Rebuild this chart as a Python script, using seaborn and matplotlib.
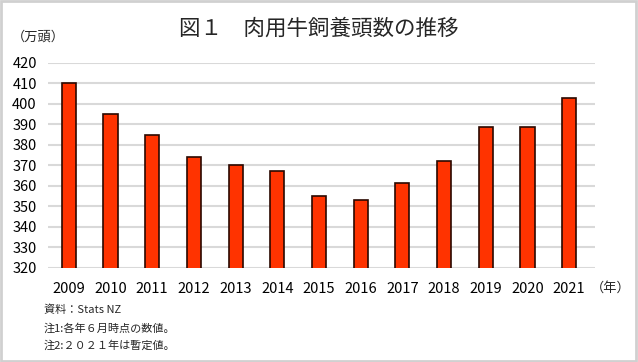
import matplotlib
matplotlib.use("Agg")
import matplotlib.pyplot as plt
import seaborn as sns
import pandas as pd
from matplotlib.patches import Rectangle

years = ["2009", "2010", "2011", "2012", "2013", "2014", "2015",
         "2016", "2017", "2018", "2019", "2020", "2021"]
heads = [410.0, 394.9, 384.7, 373.9, 370.3, 367.2, 355.2,
         353.3, 361.6, 372.1, 389.0, 388.6, 402.7]
yticks = [320, 330, 340, 350, 360, 370, 380, 390, 400, 410, 420]

title = "図１　肉用牛飼養頭数の推移"
y_unit = "（万頭）"
x_unit = "（年）"
notes = ["資料：Stats NZ", "注1:各年６月時点の数値。", "注2:２０２１年は暫定値。"]

sns.set_style("white")
plt.rcParams["font.family"] = ["Noto Sans CJK JP", "DejaVu Sans"]

df = pd.DataFrame({"year": years, "heads": heads})

fig = plt.figure(figsize=(6.38, 3.62), dpi=100)
ax = fig.add_axes([0.0752, 0.2597, 0.8574, 0.5663])

sns.barplot(data=df, x="year", y="heads", ax=ax, color="#ff3300",
            width=0.34, edgecolor="#2a0800", linewidth=1.2, saturation=1)

ax.set_ylim(320, 420)
ax.set_xlim(-0.5, 12.62)
ax.set_yticks(yticks)
ax.yaxis.grid(True, color="#d9d9d9", linewidth=1.5)
ax.set_axisbelow(True)
for s in ax.spines.values():
    s.set_visible(False)
ax.tick_params(axis="both", length=0, labelsize=10.5, colors="#000000")
ax.tick_params(axis="y", pad=8)
ax.tick_params(axis="x", pad=10)
ax.set_xlabel("")
ax.set_ylabel("")

fig.text(0.5, 0.92, title, ha="center", va="center", fontsize=15.5)
fig.text(0.018, 0.898, y_unit, ha="left", va="center", fontsize=9.5)
fig.text(0.926, 0.203, x_unit, ha="left", va="center", fontsize=9.5)
for i, line in enumerate(notes):
    fig.text(0.069, 0.1436 - i * 0.0497, line, ha="left", va="center", fontsize=8)

fig.patches.append(Rectangle((0.002, 0.003), 0.995, 0.993, transform=fig.transFigure,
                             fill=False, edgecolor="#d0d0d0", linewidth=2))

fig.savefig("out.png", dpi=100)
